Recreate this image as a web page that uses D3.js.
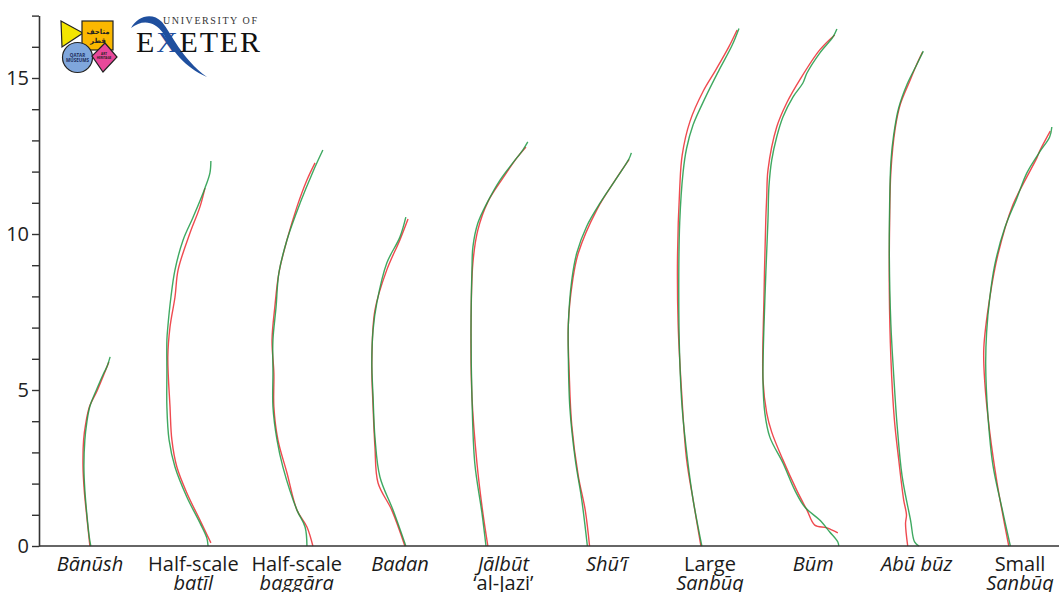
<!DOCTYPE html>
<html>
<head>
<meta charset="utf-8">
<script src="https://cdn.jsdelivr.net/npm/d3@7"></script>
<style>
body { margin: 0; background: #fff; }
svg { display: block; font-family: "Open Sans", sans-serif; }
</style>
</head>
<body>
<svg id="chart" width="1059" height="592"></svg>
<script>
// boat names along the bottom, one or two lines each: [text, italic]
var boats = ["banush", "batil", "baggara", "badan", "jalbut", "shui", "largeSanbuq", "bum", "abubuz", "smallSanbuq"];
var boatLabels = [
    [["Bānūsh", true]],
    [["Half-scale", false], ["batīl", true]],
    [["Half-scale", false], ["baggāra", true]],
    [["Badan", true]],
    [["Jālbūt", true], ["‘al-Jazi’", false]],
    [["Shū’ī", true]],
    [["Large", false], ["Sanbūq", true]],
    [["Būm", true]],
    [["Abū būz", true]],
    [["Small", false], ["Sanbūq", true]]
];

// y ticks (m), labelled every 5
var yTicks = [0, 1, 2, 3, 4, 5, 6, 7, 8, 9, 10, 11, 12, 13, 14, 15, 16, 17];
var yLabelled = [0, 5, 10, 15];

// profiles, [x m, height m]; red and green traces for each boat
var banushRed = [[2.24,5.90],[2.13,5.62],[1.86,4.97],[1.62,4.47],[1.50,3.94],[1.43,3.40],[1.41,2.55],[1.45,1.79],[1.52,1.06],[1.60,0.30],[1.63,0]];
var banushGreen = [[2.28,6.06],[2.18,5.75],[2.07,5.53],[1.84,5.00],[1.63,4.47],[1.53,3.94],[1.47,3.40],[1.44,2.55],[1.47,1.79],[1.53,1.06],[1.61,0.30],[1.66,0]];

var batilRed = [[5.32,11.47],[5.16,10.87],[4.84,10.03],[4.46,8.85],[4.36,7.98],[4.20,7.02],[4.13,6.06],[4.20,4.46],[4.26,3.40],[4.42,2.53],[4.74,1.70],[5.16,0.83],[5.51,0.10]];
var batilGreen = [[5.51,12.34],[5.48,11.96],[5.32,11.47],[4.94,10.54],[4.62,9.81],[4.36,8.85],[4.23,7.98],[4.13,7.02],[4.10,6.60],[4.10,5.54],[4.10,4.46],[4.17,3.40],[4.36,2.53],[4.74,1.57],[5.16,0.74],[5.38,0.26],[5.42,0]];

var baggaraRed = [[8.85,12.28],[8.59,11.73],[8.27,10.87],[7.95,9.81],[7.69,8.75],[7.56,7.66],[7.47,6.60],[7.53,5.54],[7.53,4.46],[7.66,3.40],[7.95,2.34],[8.27,1.15],[8.59,0.61],[8.78,0]];
var baggaraGreen = [[9.10,12.69],[8.78,11.99],[8.37,10.99],[7.95,9.81],[7.69,8.75],[7.60,7.66],[7.50,6.60],[7.50,5.54],[7.50,4.46],[7.63,3.40],[7.82,2.53],[8.27,1.15],[8.53,0.61],[8.59,0]];

var badanRed = [[11.83,10.48],[11.57,9.81],[11.15,8.85],[10.77,7.56],[10.67,5.87],[10.71,4.46],[10.77,3.17],[10.87,2.02],[11.31,1.15],[11.73,0]];
var badanGreen = [[11.76,10.54],[11.57,9.90],[11.15,9.07],[10.83,7.79],[10.71,6.92],[10.67,5.87],[10.71,4.78],[10.77,3.49],[10.93,2.21],[11.35,1.15],[11.76,0]];

var jalbutRed = [[15.61,12.79],[15.32,12.44],[14.87,11.79],[14.39,11.03],[14.07,10.13],[13.91,9.07],[13.85,6.92],[13.88,4.78],[14.04,2.66],[14.23,1.06],[14.39,0]];
var jalbutGreen = [[15.67,12.95],[15.51,12.69],[15.19,12.28],[14.78,11.73],[14.36,10.99],[14.07,10.35],[13.91,9.58],[13.88,8.85],[13.85,6.92],[13.88,4.78],[13.97,2.66],[14.20,1.06],[14.33,0]];

var shuiRed = [[18.92,12.39],[18.43,11.66],[17.89,10.79],[17.29,9.39],[17.11,8.52],[16.97,7.11],[17.00,5.49],[17.08,3.87],[17.29,2.24],[17.51,1.16],[17.65,0]];
var shuiGreen = [[18.99,12.60],[18.92,12.42],[18.54,11.82],[18.00,11.01],[17.56,10.25],[17.24,9.39],[17.08,8.52],[16.97,7.11],[16.97,6.03],[17.02,4.41],[17.19,2.78],[17.40,1.48],[17.58,0]];

var largeSanbuqRed = [[22.38,16.54],[22.11,15.99],[21.68,15.23],[21.30,14.59],[20.87,13.61],[20.62,12.53],[20.54,11.45],[20.47,9.28],[20.49,7.11],[20.60,4.95],[20.76,2.78],[20.97,1.48],[21.22,0]];
var largeSanbuqGreen = [[22.44,16.59],[22.22,16.05],[21.79,15.23],[21.36,14.37],[20.97,13.50],[20.76,12.74],[20.65,11.99],[20.54,10.36],[20.51,8.20],[20.54,6.03],[20.62,4.41],[20.79,2.78],[20.97,1.48],[21.25,0]];

var bumRed = [[25.51,16.38],[25.03,15.90],[24.39,14.94],[23.97,14.20],[23.65,13.43],[23.37,12.05],[23.33,11.19],[23.30,10.45],[23.24,7.88],[23.21,5.32],[23.33,4.26],[23.49,3.65],[23.85,2.76],[24.29,1.79],[24.62,1.15],[24.87,0.67],[25.26,0.58],[25.61,0.42]];
var bumGreen = [[25.58,16.57],[25.45,16.31],[25.03,15.80],[24.62,15.16],[24.49,14.84],[24.17,14.39],[23.85,13.75],[23.65,13.11],[23.49,12.37],[23.40,11.51],[23.37,10.45],[23.27,7.88],[23.21,5.32],[23.27,4.26],[23.43,3.49],[23.85,2.66],[24.23,1.79],[24.55,1.25],[25.03,0.83],[25.35,0.45],[25.61,0.13],[25.64,0]];

var abubuzRed = [[28.33,15.84],[28.14,15.44],[27.94,14.96],[27.61,14.15],[27.45,13.39],[27.31,11.99],[27.27,10.36],[27.26,8.20],[27.31,6.03],[27.42,4.08],[27.56,2.78],[27.72,1.48],[27.81,1.00],[27.78,0.72],[27.85,0]];
var abubuzGreen = [[28.35,15.86],[28.15,15.45],[27.83,14.80],[27.56,14.04],[27.40,13.18],[27.31,12.31],[27.27,10.90],[27.26,9.28],[27.31,7.11],[27.40,5.49],[27.51,3.87],[27.67,2.24],[27.94,0.83],[28.07,0.13],[28.21,0]];

var smallSanbuqRed = [[32.42,13.30],[32.10,12.70],[31.99,12.44],[31.67,11.83],[31.22,10.93],[30.74,9.33],[30.48,7.95],[30.29,6.35],[30.32,5.26],[30.48,3.65],[30.71,2.05],[30.90,0.99],[31.09,0]];
var smallSanbuqGreen = [[32.47,13.43],[32.40,13.11],[32.08,12.63],[31.67,11.96],[31.35,11.15],[30.96,10.19],[30.64,9.01],[30.48,7.95],[30.38,6.86],[30.35,5.80],[30.42,4.20],[30.58,2.60],[30.87,1.22],[31.14,0]];

var redTraces = [banushRed, batilRed, baggaraRed, badanRed, jalbutRed, shuiRed, largeSanbuqRed, bumRed, abubuzRed, smallSanbuqRed];
var greenTraces = [banushGreen, batilGreen, baggaraGreen, badanGreen, jalbutGreen, shuiGreen, largeSanbuqGreen, bumGreen, abubuzGreen, smallSanbuqGreen];

var svg = d3.select("#chart");

var x = d3.scaleLinear().domain([0, 32.7]).range([39, 1059]);
var y = d3.scaleLinear().domain([0, 17]).range([546, 15.6]);
var cat = d3.scalePoint().domain(boats).range([90, 1020]);

var line = d3.line()
    .x(function (d) { return x(d[0]); })
    .y(function (d) { return y(d[1]); })
    .curve(d3.curveCatmullRom.alpha(0.5));

// profiles
var profiles = svg.append("g").attr("fill", "none").attr("stroke-width", 1.4);
profiles.selectAll("path.red")
    .data(redTraces)
    .enter().append("path")
    .attr("class", "red")
    .attr("stroke", "#ec2a30")
    .attr("stroke-opacity", 0.85)
    .attr("d", line);
profiles.selectAll("path.green")
    .data(greenTraces)
    .enter().append("path")
    .attr("class", "green")
    .attr("stroke", "#1d9a45")
    .attr("stroke-opacity", 0.85)
    .attr("d", line);

// y axis
var yAxis = svg.append("g")
    .attr("transform", "translate(" + x(0) + ",0)")
    .call(d3.axisLeft(y)
        .tickValues(yTicks)
        .tickSize(7)
        .tickSizeOuter(0)
        .tickPadding(3)
        .tickFormat(function (d) { return yLabelled.indexOf(d) >= 0 ? d : ""; }));
yAxis.select(".domain").attr("stroke", "#333").attr("stroke-width", 1.6);
yAxis.selectAll(".tick line").attr("stroke", "#333").attr("stroke-width", 1.4);
yAxis.selectAll(".tick text")
    .attr("font-family", "Open Sans, sans-serif")
    .attr("font-size", 20)
    .attr("fill", "#222");

// baseline
svg.append("line")
    .attr("x1", x(0)).attr("x2", x(32.7))
    .attr("y1", y(0)).attr("y2", y(0))
    .attr("stroke", "#333")
    .attr("stroke-width", 1.6);

// boat labels
var labels = svg.append("g")
    .attr("font-size", 20)
    .attr("fill", "#1a1a1a")
    .attr("text-anchor", "middle");
boats.forEach(function (b, i) {
    var t = labels.append("text").attr("x", cat(b)).attr("y", 571);
    boatLabels[i].forEach(function (ln, j) {
        t.append("tspan")
            .attr("x", cat(b))
            .attr("dy", j === 0 ? 0 : 19)
            .attr("font-style", ln[1] ? "italic" : "normal")
            .text(ln[0]);
    });
});

// Qatar Museums logo
var qm = svg.append("g").attr("stroke", "#222").attr("stroke-width", 1.2);
qm.append("path").attr("d", "M61,21 L83,33 L62,47 Z").attr("fill", "#f3e500");
qm.append("rect").attr("x", 82).attr("y", 21).attr("width", 31).attr("height", 29).attr("fill", "#fbb800");
qm.append("circle").attr("cx", 77.5).attr("cy", 57.5).attr("r", 15).attr("fill", "#7fa6dc");
qm.append("path").attr("d", "M105,43 L117,57 L103,72 L92,56 Z").attr("fill", "#e8489a");
var qmText = svg.append("g").attr("text-anchor", "middle").attr("font-weight", "bold");
qmText.append("text").attr("x", 98).attr("y", 34).attr("font-family", "DejaVu Sans")
    .attr("font-size", 7).attr("fill", "#222").text("متاحف");
qmText.append("text").attr("x", 98).attr("y", 43).attr("font-family", "DejaVu Sans")
    .attr("font-size", 7).attr("fill", "#222").text("قطر");
qmText.append("text").attr("x", 77.5).attr("y", 57).attr("font-size", 4.5).attr("fill", "#1b2a5a").text("QATAR");
qmText.append("text").attr("x", 77.5).attr("y", 62).attr("font-size", 4.5).attr("fill", "#1b2a5a").text("MUSEUMS");
qmText.append("text").attr("x", 104).attr("y", 55).attr("font-size", 3).attr("fill", "#222").text("ART");
qmText.append("text").attr("x", 104).attr("y", 59).attr("font-size", 3).attr("fill", "#222").text("HERITAGE");

// University of Exeter logo
var ex = svg.append("g").attr("font-family", "Liberation Serif, serif");
ex.append("path")
    .attr("d", "M131,28 C138,16 152,12 162,22 C172,34 181,58 207,77 C184,67 172,50 163,33 C155,21 142,19 131,28 Z")
    .attr("fill", "#1f4f9e");
ex.append("text").attr("x", 163).attr("y", 24)
    .attr("font-size", 10).attr("fill", "#333")
    .attr("textLength", 94).attr("lengthAdjust", "spacing")
    .text("UNIVERSITY OF");
var exName = ex.append("text").attr("x", 136).attr("y", 52)
    .attr("font-size", 30).attr("fill", "#111")
    .attr("textLength", 124).attr("lengthAdjust", "spacing");
exName.append("tspan").text("E");
exName.append("tspan").attr("fill", "#1f4f9e").text("X");
exName.append("tspan").text("ETER");
</script>
</body>
</html>
